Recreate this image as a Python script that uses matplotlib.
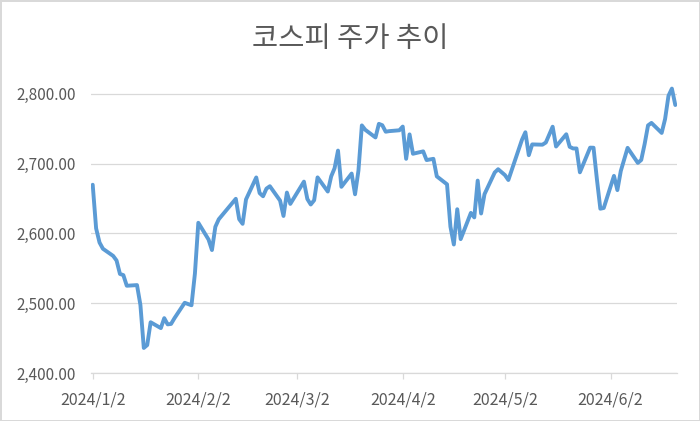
import pandas as pd
import matplotlib.pyplot as plt
import matplotlib.dates as mdates

plt.rcParams['font.family'] = ['Noto Sans CJK KR', 'DejaVu Sans']

# KOSPI closing values, 2024 trading days
dates = [
    '2024-01-02', '2024-01-03', '2024-01-04', '2024-01-05', '2024-01-08', '2024-01-09',
    '2024-01-10', '2024-01-11', '2024-01-12', '2024-01-15', '2024-01-16', '2024-01-17',
    '2024-01-18', '2024-01-19', '2024-01-22', '2024-01-23', '2024-01-24', '2024-01-25',
    '2024-01-26', '2024-01-29', '2024-01-30', '2024-01-31',
    '2024-02-01', '2024-02-02', '2024-02-05', '2024-02-06', '2024-02-07', '2024-02-08',
    '2024-02-13', '2024-02-14', '2024-02-15', '2024-02-16', '2024-02-19', '2024-02-20',
    '2024-02-21', '2024-02-22', '2024-02-23', '2024-02-26', '2024-02-27', '2024-02-28',
    '2024-02-29',
    '2024-03-04', '2024-03-05', '2024-03-06', '2024-03-07', '2024-03-08', '2024-03-11',
    '2024-03-12', '2024-03-13', '2024-03-14', '2024-03-15', '2024-03-18', '2024-03-19',
    '2024-03-20', '2024-03-21', '2024-03-22', '2024-03-25', '2024-03-26', '2024-03-27',
    '2024-03-28', '2024-03-29',
    '2024-04-01', '2024-04-02', '2024-04-03', '2024-04-04', '2024-04-05', '2024-04-08',
    '2024-04-09', '2024-04-11', '2024-04-12', '2024-04-15', '2024-04-16', '2024-04-17',
    '2024-04-18', '2024-04-19', '2024-04-22', '2024-04-23', '2024-04-24', '2024-04-25',
    '2024-04-26', '2024-04-29', '2024-04-30',
    '2024-05-02', '2024-05-03', '2024-05-07', '2024-05-08', '2024-05-09', '2024-05-10',
    '2024-05-13', '2024-05-14', '2024-05-16', '2024-05-17', '2024-05-20', '2024-05-21',
    '2024-05-22', '2024-05-23', '2024-05-24', '2024-05-27', '2024-05-28', '2024-05-29',
    '2024-05-30', '2024-05-31',
    '2024-06-03', '2024-06-04', '2024-06-05', '2024-06-07', '2024-06-10', '2024-06-11',
    '2024-06-12', '2024-06-13', '2024-06-14', '2024-06-17', '2024-06-18', '2024-06-19',
    '2024-06-20', '2024-06-21',
]
kospi = [
    2669.81, 2607.31, 2587.02, 2578.08, 2567.82, 2561.24,
    2541.98, 2540.27, 2525.05, 2525.99, 2497.59, 2435.90,
    2440.04, 2472.74, 2464.35, 2478.61, 2469.69, 2470.34,
    2478.56, 2500.65, 2498.81, 2497.09,
    2542.46, 2615.31, 2591.31, 2576.20, 2609.58, 2620.32,
    2649.64, 2620.42, 2613.80, 2648.76, 2680.26, 2657.79,
    2653.31, 2664.27, 2667.70, 2647.08, 2625.05, 2658.63,
    2642.36,
    2674.27, 2649.40, 2641.49, 2647.62, 2680.35, 2660.09,
    2681.81, 2693.57, 2718.76, 2666.84, 2685.84, 2656.17,
    2690.14, 2754.86, 2748.56, 2737.57, 2757.09, 2755.11,
    2745.82, 2746.63,
    2747.86, 2753.16, 2706.97, 2742.00, 2714.21, 2717.65,
    2705.16, 2706.96, 2681.82, 2670.43, 2609.63, 2584.18,
    2634.70, 2591.86, 2629.44, 2623.02, 2675.75, 2628.62,
    2656.33, 2687.44, 2692.06,
    2683.65, 2676.63, 2734.36, 2745.05, 2712.14, 2727.63,
    2727.21, 2730.34, 2753.00, 2724.62, 2742.14, 2724.18,
    2721.81, 2721.81, 2687.60, 2722.99, 2722.85, 2677.30,
    2635.44, 2636.52,
    2682.52, 2662.10, 2689.50, 2722.67, 2701.17, 2705.30,
    2728.17, 2754.89, 2758.42, 2744.10, 2763.92, 2797.33,
    2807.63, 2784.06,
]
tick_dates = ['2024-01-02', '2024-02-02', '2024-03-02', '2024-04-02', '2024-05-02', '2024-06-02']
tick_labels = ['2024/1/2', '2024/2/2', '2024/3/2', '2024/4/2', '2024/5/2', '2024/6/2']
y_ticks = [2400, 2500, 2600, 2700, 2800]

x = mdates.date2num(pd.to_datetime(dates))
xt = mdates.date2num(pd.to_datetime(tick_dates))

fig = plt.figure(figsize=(7, 4.21), dpi=100)
fig.patch.set_edgecolor('#D9D9D9')
fig.patch.set_linewidth(2)

ax = fig.add_axes([91 / 700, 48 / 421, 586 / 700, 307 / 421])
ax.plot(x, kospi, color='#5B9BD5', lw=2.8, solid_joinstyle='round', solid_capstyle='round')

ax.set_xlim(x[0] - 0.5, x[-1] + 0.5)
ax.set_ylim(2400, 2840)
ax.set_yticks(y_ticks)
ax.set_yticklabels([f'{v:,.2f}' for v in y_ticks])
ax.set_xticks(xt)
ax.set_xticklabels(tick_labels)
ax.grid(axis='y', color='#D9D9D9', lw=0.9)
ax.set_axisbelow(True)

for s in ['top', 'right', 'left']:
    ax.spines[s].set_visible(False)
ax.spines['bottom'].set_color('#D9D9D9')
ax.spines['bottom'].set_linewidth(0.9)
ax.tick_params(axis='y', length=0, pad=11, labelsize=11, labelcolor='#595959')
ax.tick_params(axis='x', length=4, width=0.9, color='#D9D9D9', pad=9, labelsize=11.5, labelcolor='#595959')

fig.text(0.5, 0.907, '코스피 주가 추이', ha='center', va='center', fontsize=20.5, color='#595959')

plt.savefig('out.png', dpi=100)
